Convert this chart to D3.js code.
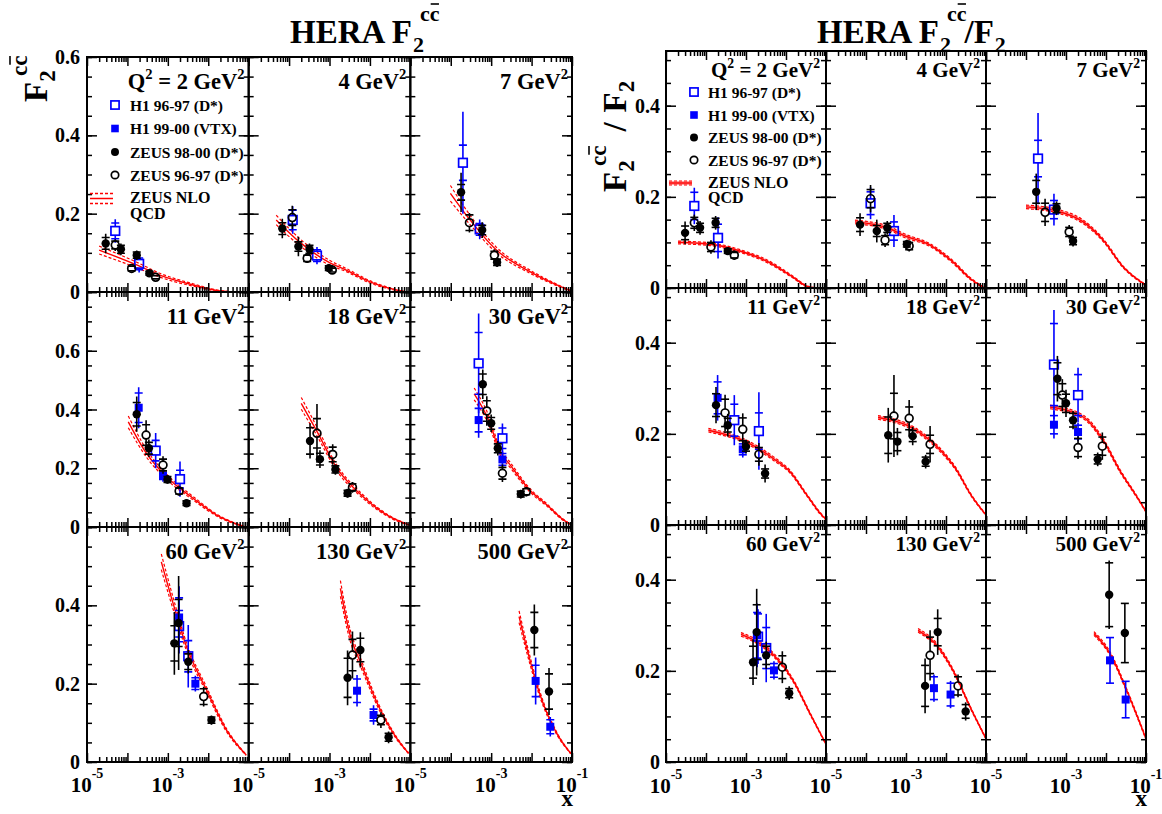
<!DOCTYPE html>
<html><head><meta charset="utf-8">
<script src="https://cdn.jsdelivr.net/npm/d3@7/dist/d3.min.js"></script>
<style>
body{margin:0;background:#fff}
svg{display:block}
text{font-family:"Liberation Serif","Times New Roman",serif;font-weight:bold;fill:#000}
</style>
</head><body>
<svg id="c" width="1162" height="814"></svg>
<script>
// ---------------- DATA ----------------
const q2Labels = ["2","4","7","11","18","30","60","130","500"];
const leftYMax = [0.6, 0.8, 0.6];
const rightYMax = [0.52, 0.52, 0.52];
const leftYTickLabels = [[0,0.2,0.4,0.6],[0,0.2,0.4,0.6],[0,0.2,0.4]];
const rightYTickLabels = [[0,0.2,0.4],[0,0.2,0.4],[0,0.2,0.4]];
const xTickValues = [1e-5, 1e-3, 1e-1];
const xTickExponents = ["-5","-3","-1"];
const legendNames = ["H1 96-97 (D*)","H1 99-00 (VTX)","ZEUS 98-00 (D*)","ZEUS 96-97 (D*)"];

// point rows: [panel, x, value, stat err, total err]
const leftH1D = [
 [0,5.0e-5,0.156,0.02,0.03],[0,1.95e-4,0.072,0.015,0.022],
 [1,1.23e-4,0.184,0.025,0.035],[1,4.9e-4,0.093,0.015,0.022],
 [2,2.0e-4,0.33,0.045,0.13],[2,5.2e-4,0.16,0.015,0.025],
 [3,5.0e-4,0.26,0.035,0.06],[3,2.0e-3,0.163,0.03,0.06],
 [5,4.9e-4,0.557,0.105,0.17],[5,1.9e-3,0.302,0.035,0.05],
 [6,1.9e-3,0.347,0.04,0.07],[6,3.2e-3,0.27,0.04,0.08]
];
const leftH1V = [
 [3,1.9e-4,0.406,0.05,0.07],[3,7.6e-4,0.174,0.012,0.02],
 [5,4.9e-4,0.364,0.04,0.06],[5,1.9e-3,0.23,0.02,0.03],
 [6,1.9e-3,0.369,0.05,0.08],[6,4.8e-3,0.2,0.015,0.02],
 [7,4.8e-3,0.182,0.03,0.04],[7,0.0123,0.12,0.015,0.025],
 [8,0.0126,0.207,0.04,0.06],[8,0.029,0.09,0.018,0.025]
];
const leftZ98 = [
 [0,2.9e-5,0.124,0.015,0.025],[0,6.9e-5,0.109,0.01,0.015],[0,1.7e-4,0.094,0.008,0.012],[0,3.5e-4,0.048,0.005,0.008],
 [1,6.8e-5,0.162,0.015,0.025],[1,1.7e-4,0.116,0.012,0.025],[1,3.2e-4,0.109,0.01,0.015],[1,9.6e-4,0.061,0.006,0.01],
 [2,1.8e-4,0.2545,0.02,0.05],[2,6.0e-4,0.158,0.012,0.02],[2,1.4e-3,0.076,0.008,0.012],
 [3,1.7e-4,0.384,0.04,0.06],[3,3.4e-4,0.268,0.02,0.03],[3,9.8e-4,0.162,0.01,0.015],[3,2.9e-3,0.081,0.008,0.012],
 [4,3.3e-4,0.293,0.045,0.06],[4,5.8e-4,0.231,0.02,0.03],[4,1.4e-3,0.196,0.012,0.018],[4,2.8e-3,0.115,0.01,0.015],
 [5,6.2e-4,0.486,0.035,0.05],[5,1.0e-3,0.353,0.02,0.03],[5,1.46e-3,0.268,0.015,0.025],[5,5.4e-3,0.112,0.01,0.015],
 [6,1.45e-3,0.303,0.045,0.08],[6,1.85e-3,0.355,0.06,0.12],[6,3.2e-3,0.256,0.02,0.03],[6,0.012,0.107,0.008,0.012],
 [7,2.8e-3,0.215,0.05,0.07],[7,5.8e-3,0.286,0.03,0.045],[7,0.029,0.063,0.01,0.015],
 [8,0.0117,0.337,0.045,0.065],[8,0.027,0.18,0.045,0.06]
];
const leftZ96 = [
 [0,5.0e-5,0.12,0.01,0.015],[0,1.27e-4,0.06,0.006,0.01],[0,5.0e-4,0.0375,0.004,0.006],
 [1,1.2e-4,0.19,0.02,0.03],[1,2.8e-4,0.086,0.008,0.012],[1,1.17e-3,0.056,0.005,0.008],
 [2,2.9e-4,0.177,0.02,0.025],[2,1.2e-3,0.094,0.01,0.015],
 [3,2.9e-4,0.313,0.035,0.05],[3,7.6e-4,0.211,0.02,0.03],[3,1.9e-3,0.1225,0.01,0.015],
 [4,4.9e-4,0.319,0.05,0.1],[4,1.2e-3,0.247,0.025,0.035],[4,3.7e-3,0.135,0.012,0.018],
 [5,7.8e-4,0.395,0.035,0.05],[5,1.9e-3,0.183,0.02,0.03],[5,7.4e-3,0.12,0.01,0.015],
 [6,7.7e-3,0.167,0.02,0.025],
 [7,3.7e-3,0.273,0.04,0.06],[7,0.0187,0.107,0.012,0.02]
];
const rightH1D = [
 [0,5.1e-5,0.18,0.03,0.04],[0,2.0e-4,0.11,0.03,0.045],
 [1,1.3e-4,0.186,0.025,0.035],[1,5.0e-4,0.125,0.02,0.035],
 [2,2.0e-4,0.284,0.04,0.1],[2,5.0e-4,0.172,0.02,0.035],
 [3,5.1e-4,0.23,0.035,0.055],[3,2.1e-3,0.206,0.04,0.085],
 [5,5.0e-4,0.352,0.09,0.12],[5,2.0e-3,0.285,0.045,0.06],
 [6,2.0e-3,0.275,0.05,0.06],[6,3.2e-3,0.25,0.045,0.075]
];
const rightH1V = [
 [3,1.95e-4,0.279,0.035,0.05],[3,8.3e-4,0.166,0.012,0.018],
 [5,5.0e-4,0.22,0.02,0.03],[5,2.0e-3,0.204,0.015,0.02],
 [6,1.9e-3,0.278,0.05,0.07],[6,5.0e-3,0.201,0.015,0.02],
 [7,5.0e-3,0.162,0.025,0.03],[7,0.013,0.148,0.025,0.03],
 [8,0.0126,0.223,0.05,0.05],[8,0.031,0.137,0.04,0.04]
];
const rightZ98 = [
 [0,3.0e-5,0.121,0.015,0.025],[0,7.1e-5,0.132,0.01,0.015],[0,1.74e-4,0.143,0.01,0.015],[0,3.5e-4,0.081,0.005,0.008],
 [1,7.1e-5,0.139,0.015,0.025],[1,1.86e-4,0.125,0.012,0.025],[1,3.4e-4,0.132,0.01,0.015],[1,1.05e-3,0.096,0.006,0.01],
 [2,1.8e-4,0.211,0.025,0.04],[2,5.8e-4,0.175,0.01,0.015],[2,1.5e-3,0.103,0.008,0.012],
 [3,1.78e-4,0.263,0.025,0.04],[3,3.5e-4,0.219,0.015,0.025],[3,1.0e-3,0.172,0.01,0.015],[3,3.0e-3,0.113,0.01,0.02],
 [4,3.6e-4,0.197,0.04,0.06],[4,6.1e-4,0.183,0.02,0.03],[4,1.47e-3,0.195,0.012,0.02],[4,3.1e-3,0.139,0.01,0.015],
 [5,6.1e-4,0.321,0.035,0.05],[5,1.0e-3,0.267,0.02,0.03],[5,1.5e-3,0.23,0.015,0.02],[5,6.2e-3,0.144,0.01,0.015],
 [6,1.5e-3,0.219,0.035,0.05],[6,1.85e-3,0.285,0.06,0.095],[6,3.2e-3,0.234,0.02,0.03],[6,0.012,0.151,0.01,0.015],
 [7,3.0e-3,0.167,0.045,0.06],[7,6.2e-3,0.285,0.03,0.05],[7,0.031,0.111,0.015,0.02],
 [8,0.012,0.367,0.07,0.075],[8,0.0296,0.283,0.065,0.065]
];
const rightZ96 = [
 [0,5.1e-5,0.143,0.012,0.018],[0,1.33e-4,0.09,0.01,0.015],[0,5.1e-4,0.072,0.006,0.01],
 [1,1.3e-4,0.196,0.02,0.03],[1,3.0e-4,0.105,0.01,0.015],[1,1.2e-3,0.092,0.008,0.012],
 [2,3.0e-4,0.166,0.02,0.03],[2,1.2e-3,0.123,0.01,0.015],
 [3,3.0e-4,0.246,0.03,0.04],[3,8.3e-4,0.21,0.025,0.035],[3,2.1e-3,0.155,0.015,0.025],
 [4,5.0e-4,0.239,0.05,0.09],[4,1.2e-3,0.234,0.025,0.04],[4,4.0e-3,0.177,0.02,0.04],
 [5,8.1e-4,0.285,0.025,0.035],[5,2.0e-3,0.17,0.02,0.025],[5,8.1e-3,0.173,0.02,0.03],
 [6,8.1e-3,0.208,0.025,0.035],
 [7,4.0e-3,0.234,0.04,0.055],[7,0.02,0.167,0.02,0.025]
];

// ZEUS NLO QCD curves per panel: [x, value, band half-width]
const leftQCD = [
 [[2.0e-5,0.107,0.010],[1.7e-4,0.069,0.007],[6.3e-4,0.043,0.005],[4.2e-3,0.018,0.003],[0.019,0.003,0.001],[0.06,0.0,0.0]],
 [[4.8e-5,0.184,0.012],[1.8e-4,0.128,0.009],[1.0e-3,0.075,0.006],[2.6e-3,0.056,0.004],[0.01,0.026,0.003],[0.045,0.005,0.001],[0.08,0.0,0.0]],
 [[9.8e-5,0.252,0.02],[3.0e-4,0.184,0.012],[1.35e-3,0.107,0.007],[9.1e-3,0.052,0.004],[0.042,0.018,0.002],[0.093,0.003,0.001]],
 [[1.05e-4,0.358,0.02],[2.95e-4,0.251,0.013],[9.3e-4,0.171,0.009],[4.2e-3,0.098,0.006],[0.019,0.035,0.003],[0.079,0.001,0.0]],
 [[2.0e-4,0.421,0.02],[4.7e-4,0.33,0.015],[1.45e-3,0.205,0.01],[6.8e-3,0.103,0.006],[0.031,0.035,0.003],[0.093,0.007,0.001]],
 [[3.8e-4,0.453,0.02],[8.9e-4,0.36,0.015],[1.6e-3,0.262,0.011],[3.0e-3,0.21,0.009],[9.1e-3,0.125,0.006],[0.024,0.075,0.004],[0.06,0.025,0.002],[0.098,0.007,0.001]],
 [[6.9e-4,0.511,0.02],[1.35e-3,0.405,0.015],[2.9e-3,0.294,0.01],[9.1e-3,0.184,0.007],[0.028,0.082,0.004],[0.087,0.018,0.001]],
 [[1.86e-3,0.443,0.02],[3.0e-3,0.337,0.015],[6.5e-3,0.243,0.01],[0.0166,0.141,0.006],[0.043,0.065,0.003],[0.091,0.022,0.001]],
 [[4.9e-3,0.371,0.015],[9.1e-3,0.26,0.01],[0.0158,0.175,0.007],[0.042,0.073,0.003],[0.093,0.022,0.001]]
];
const rightQCD = [
 [[2.0e-5,0.10,0.003],[1.26e-4,0.096,0.003],[8.5e-4,0.079,0.003],[3.3e-3,0.059,0.003],[0.015,0.024,0.002],[0.033,0.004,0.001],[0.059,0.0,0.0]],
 [[5.3e-5,0.145,0.004],[4.0e-4,0.13,0.004],[8.5e-4,0.116,0.004],[4.0e-3,0.094,0.003],[0.015,0.057,0.003],[0.04,0.021,0.002],[0.085,0.002,0.001]],
 [[1.0e-4,0.178,0.004],[5.9e-4,0.169,0.004],[2.7e-3,0.145,0.004],[8.5e-3,0.105,0.003],[0.027,0.046,0.002],[0.1,0.006,0.001]],
 [[1.15e-4,0.208,0.004],[1.05e-3,0.182,0.004],[4.8e-3,0.146,0.004],[0.0126,0.117,0.003],[0.033,0.066,0.002],[0.071,0.026,0.002],[0.1,0.012,0.001]],
 [[2.0e-4,0.236,0.004],[1.5e-3,0.212,0.004],[5.9e-3,0.172,0.004],[0.0186,0.12,0.003],[0.04,0.069,0.002],[0.1,0.022,0.001]],
 [[4.0e-4,0.259,0.004],[2.7e-3,0.237,0.004],[8.5e-3,0.186,0.004],[0.022,0.12,0.003],[0.059,0.062,0.002],[0.1,0.029,0.001]],
 [[7.5e-4,0.28,0.004],[3.3e-3,0.249,0.004],[0.015,0.179,0.003],[0.04,0.106,0.002],[0.1,0.039,0.001]],
 [[2.0e-3,0.289,0.004],[5.9e-3,0.256,0.004],[0.015,0.201,0.003],[0.04,0.121,0.002],[0.1,0.051,0.001]],
 [[5.0e-3,0.282,0.004],[0.0126,0.238,0.004],[0.033,0.157,0.003],[0.1,0.051,0.002]]
];

// ---------------- DRAWING ----------------
const svg = d3.select("#c");
const RED = "#ff0000", BLUE = "#0000ff";
const styles = [
  {color:BLUE, shape:"osq"},
  {color:BLUE, shape:"fsq"},
  {color:"#000", shape:"fci"},
  {color:"#000", shape:"oci"}
];

function drawMarker(g, shape, color, cx, cy, s) {
  s = s || 1;
  if (shape === "osq") g.append("rect").attr("x",cx-4.3*s).attr("y",cy-4.3*s).attr("width",8.6*s).attr("height",8.6*s)
      .attr("fill","none").attr("stroke",color).attr("stroke-width",1.7);
  else if (shape === "fsq") g.append("rect").attr("x",cx-4*s).attr("y",cy-4*s).attr("width",8*s).attr("height",8*s).attr("fill",color);
  else if (shape === "fci") g.append("circle").attr("cx",cx).attr("cy",cy).attr("r",4.2*s).attr("fill",color);
  else g.append("circle").attr("cx",cx).attr("cy",cy).attr("r",3.9*s).attr("fill","none").attr("stroke",color).attr("stroke-width",1.7);
}

function drawFigure(f) {
  const g = svg.append("g");
  const pw = (f.right - f.left) / 3, ph = (f.bottom - f.top) / 3;
  for (let i = 0; i < 9; i++) {
    const r = Math.floor(i / 3), c = i % 3;
    const x0 = f.left + c * pw, x1 = x0 + pw, y0 = f.top + r * ph, y1 = y0 + ph;
    const x = d3.scaleLog().domain([1e-5, 1e-1]).range([x0, x1]);
    const y = d3.scaleLinear().domain([0, f.yMax[r]]).range([y1, y0]);
    const pg = g.append("g");
    const cid = f.id + "clip" + i;
    pg.append("clipPath").attr("id", cid).append("rect").attr("x", x0).attr("y", y0).attr("width", pw).attr("height", ph);
    const dg = pg.append("g").attr("clip-path", `url(#${cid})`);

    // QCD curve with band
    const cur = f.curves[i];
    const mk = off => d3.line().x(d => x(d[0])).y(d => y(d[1] + off * d[2])).curve(d3.curveMonotoneX);
    if (f.bandFill) {
      dg.append("path").datum(cur).attr("fill", RED).attr("opacity", 0.35)
        .attr("d", d3.area().x(d => x(d[0])).y0(d => y(d[1] - d[2])).y1(d => y(d[1] + d[2])).curve(d3.curveMonotoneX));
    }
    [-1, 1].forEach(o => dg.append("path").datum(cur).attr("d", mk(o)).attr("fill", "none")
      .attr("stroke", RED).attr("stroke-width", 1.2).attr("stroke-dasharray", "3,2"));
    dg.append("path").datum(cur).attr("d", mk(0)).attr("fill", "none").attr("stroke", RED).attr("stroke-width", 1.4);

    // data sets
    f.sets.forEach((set, k) => {
      const st = styles[k];
      const hs = (st.shape === "osq") ? 4.3 : (st.shape === "oci" ? 3.9 : 0);
      set.filter(d => d[0] === i).forEach(d => {
        const px = x(d[1]), py = y(d[2]);
        const yt = y(d[2] + d[4]), yb = y(d[2] - d[4]);
        const ys1 = y(d[2] + d[3]), ys2 = y(d[2] - d[3]);
        const eg = dg.append("g").attr("stroke", st.color).attr("stroke-width", 1.6);
        if (yt < py - hs) eg.append("line").attr("x1", px).attr("x2", px).attr("y1", yt).attr("y2", py - hs);
        if (yb > py + hs) eg.append("line").attr("x1", px).attr("x2", px).attr("y1", py + hs).attr("y2", yb);
        [ys1, ys2].forEach(v => eg.append("line").attr("x1", px - 4).attr("x2", px + 4).attr("y1", v).attr("y2", v));
        drawMarker(dg, st.shape, st.color, px, py);
      });
    });

    // ticks (inward on all four sides)
    const yMinor = d3.range(0, f.yMax[r] + 1e-9, 0.05);
    const yMajor = d3.range(0, f.yMax[r] + 1e-9, 0.2);
    const xMajor = [1e-5, 1e-4, 1e-3, 1e-2, 1e-1];
    const xMinor = [];
    [1e-5, 1e-4, 1e-3, 1e-2].forEach(dec => d3.range(2, 10).forEach(m => xMinor.push(m * dec)));
    const tg = pg.append("g");
    const ax = (gen, tr, vals, size) => {
      const a = tg.append("g").attr("transform", tr).call(gen.tickValues(vals).tickSize(size).tickFormat(""));
      a.select(".domain").remove();
      a.selectAll("line").attr("stroke", "#000").attr("stroke-width", 1.5);
    };
    ax(d3.axisRight(y), `translate(${x0},0)`, yMinor, 5);
    ax(d3.axisRight(y), `translate(${x0},0)`, yMajor, 10);
    ax(d3.axisLeft(y), `translate(${x1},0)`, yMinor, 5);
    ax(d3.axisLeft(y), `translate(${x1},0)`, yMajor, 10);
    ax(d3.axisTop(x), `translate(0,${y1})`, xMinor, 5);
    ax(d3.axisTop(x), `translate(0,${y1})`, xMajor, 9);
    ax(d3.axisBottom(x), `translate(0,${y0})`, xMinor, 5);
    ax(d3.axisBottom(x), `translate(0,${y0})`, xMajor, 9);

    // frame
    pg.append("rect").attr("x", x0).attr("y", y0).attr("width", pw).attr("height", ph)
      .attr("fill", "none").attr("stroke", "#000").attr("stroke-width", 2);

    // y tick labels
    if (c === 0) {
      f.yLabels[r].forEach(v => {
        pg.append("text").attr("x", x0 - f.yLabOff).attr("y", y(v)).attr("text-anchor", "end")
          .attr("dominant-baseline", "central").attr("font-size", f.yLabFont).text(v === 0 ? "0" : v.toFixed(1));
      });
    }
    // x tick labels
    if (r === 2) {
      xTickValues.forEach((v, k) => {
        if (k === 2 && c !== 2) return;
        const t = pg.append("text").attr("x", x(v)).attr("y", f.xLabY).attr("text-anchor", "middle").attr("font-size", 21);
        t.append("tspan").text("10");
        t.append("tspan").attr("dy", -14).attr("font-size", 14).text(xTickExponents[k]);
      });
    }
    // Q2 label
    const lt = pg.append("text").attr("x", x1 - f.qOffX).attr("y", y0 + f.qOffY).attr("text-anchor", "end").attr("font-size", f.qFont);
    if (i === 0) {
      lt.append("tspan").text("Q");
      lt.append("tspan").attr("dy", -f.qFont * 0.45).attr("font-size", f.qFont * 0.65).text("2");
      lt.append("tspan").attr("dy", f.qFont * 0.45).text(" = " + q2Labels[i] + " GeV");
    } else {
      lt.append("tspan").text(q2Labels[i] + " GeV");
    }
    lt.append("tspan").attr("dy", -f.qFont * 0.45).attr("font-size", f.qFont * 0.65).text("2");
  }
}

function overline(textNode, idx, g, off) {
  const e = textNode.getExtentOfChar(idx);
  g.append("line").attr("x1", e.x + 1).attr("x2", e.x + e.width - 0.5)
    .attr("y1", e.y + (off || 2)).attr("y2", e.y + (off || 2)).attr("stroke", "#000").attr("stroke-width", 1.6);
}

// LEFT figure
drawFigure({id:"L", left:87, right:572, top:57, bottom:762, yMax:leftYMax, yLabels:leftYTickLabels,
  sets:[leftH1D, leftH1V, leftZ98, leftZ96], curves:leftQCD, bandFill:false, yLabOff:7, yLabFont:20, xLabY:792,
  qOffX:4, qOffY:32, qFont:22.5});
// RIGHT figure
drawFigure({id:"R", left:666, right:1146, top:51, bottom:762, yMax:rightYMax, yLabels:rightYTickLabels,
  sets:[rightH1D, rightH1V, rightZ98, rightZ96], curves:rightQCD, bandFill:true, yLabOff:6, yLabFont:20, xLabY:793,
  qOffX:6, qOffY:26, qFont:21});

// ---- Titles ----
function titleCC(x, yb, withRatio) {
  const g = svg.append("g");
  const t1 = g.append("text").attr("x", x).attr("y", yb).attr("font-size", 33).text("HERA F");
  const e1 = x + t1.node().getComputedTextLength();
  g.append("text").attr("x", e1 + 1).attr("y", yb + 9).attr("font-size", 22).text("2");
  const sup = g.append("text").attr("x", e1 + 8).attr("y", yb - 22).attr("font-size", 22).text("cc");
  overline(sup.node(), 1, g, 3);
  if (withRatio) {
    const e2 = e1 + 8 + sup.node().getComputedTextLength();
    const t3 = g.append("text").attr("x", e2 - 2).attr("y", yb).attr("font-size", 33).text("/F");
    const e3 = e2 - 2 + t3.node().getComputedTextLength();
    g.append("text").attr("x", e3 + 1).attr("y", yb + 9).attr("font-size", 22).text("2");
  }
}
titleCC(290, 43, false);
titleCC(817, 43, true);

// ---- Y axis titles ----
function yTitle(bx, by, withRatio) {
  const g = svg.append("g").attr("transform", `translate(${bx},${by}) rotate(-90)`);
  const t = g.append("text").attr("x", 0).attr("y", 0).attr("font-size", 33);
  t.append("tspan").text("F");
  t.append("tspan").attr("dy", 8).attr("font-size", 23).text("2");
  const t1len = t.node().getComputedTextLength();
  const sup = g.append("text").attr("x", 26).attr("y", -20).attr("font-size", 23).text("cc");
  overline(sup.node(), 1, g, 3);
  if (withRatio) {
    const sx = Math.max(t1len, 26 + sup.node().getComputedTextLength()) + 14;
    const sl = g.append("text").attr("x", sx).attr("y", 0).attr("font-size", 33).text("/");
    const fx = sx + sl.node().getComputedTextLength() + 10;
    const t2 = g.append("text").attr("x", fx).attr("y", 0).attr("font-size", 33);
    t2.append("tspan").text("F");
    t2.append("tspan").attr("dy", 8).attr("font-size", 23).text("2");
  }
}
yTitle(47, 102, false);
yTitle(626, 192, true);

// ---- x axis titles ----
svg.append("text").attr("x", 573).attr("y", 806).attr("text-anchor", "end").attr("font-size", 23).text("x");
svg.append("text").attr("x", 1147).attr("y", 806).attr("text-anchor", "end").attr("font-size", 23).text("x");

// ---- Legends ----
function legend(mx, tx, ys, fs, lineY, qcdY, bandStyle) {
  const g = svg.append("g");
  legendNames.forEach((n, k) => {
    drawMarker(g, styles[k].shape, styles[k].color, mx, ys[k], 0.95);
    g.append("text").attr("x", tx).attr("y", ys[k] + 5.5).attr("font-size", fs).text(n);
  });
  if (bandStyle) {
    g.append("rect").attr("x", mx - 25).attr("y", lineY - 2).attr("width", 23).attr("height", 4).attr("fill", RED).attr("opacity", 0.35);
    [-2, 2].forEach(o => g.append("line").attr("x1", mx - 25).attr("x2", mx - 2).attr("y1", lineY + o).attr("y2", lineY + o)
      .attr("stroke", RED).attr("stroke-width", 1.2).attr("stroke-dasharray", "3,2"));
    g.append("line").attr("x1", mx - 25).attr("x2", mx - 2).attr("y1", lineY).attr("y2", lineY).attr("stroke", RED).attr("stroke-width", 1.5);
  } else {
    [-5, 5].forEach(o => g.append("line").attr("x1", mx - 25).attr("x2", mx - 2).attr("y1", lineY + o).attr("y2", lineY + o)
      .attr("stroke", RED).attr("stroke-width", 1.4).attr("stroke-dasharray", "3,2"));
    g.append("line").attr("x1", mx - 25).attr("x2", mx - 2).attr("y1", lineY).attr("y2", lineY).attr("stroke", RED).attr("stroke-width", 1.5);
  }
  g.append("text").attr("x", tx).attr("y", qcdY[0]).attr("font-size", fs + 0.5).text("ZEUS NLO");
  g.append("text").attr("x", tx).attr("y", qcdY[1]).attr("font-size", fs + 0.5).text("QCD");
}
legend(115, 130, [105, 128.5, 152, 175], 15.5, 198.5, [203, 219], false);
legend(694, 708, [92, 115, 137.5, 160], 15.5, 183, [187.5, 203], true);
</script>
</body></html>
